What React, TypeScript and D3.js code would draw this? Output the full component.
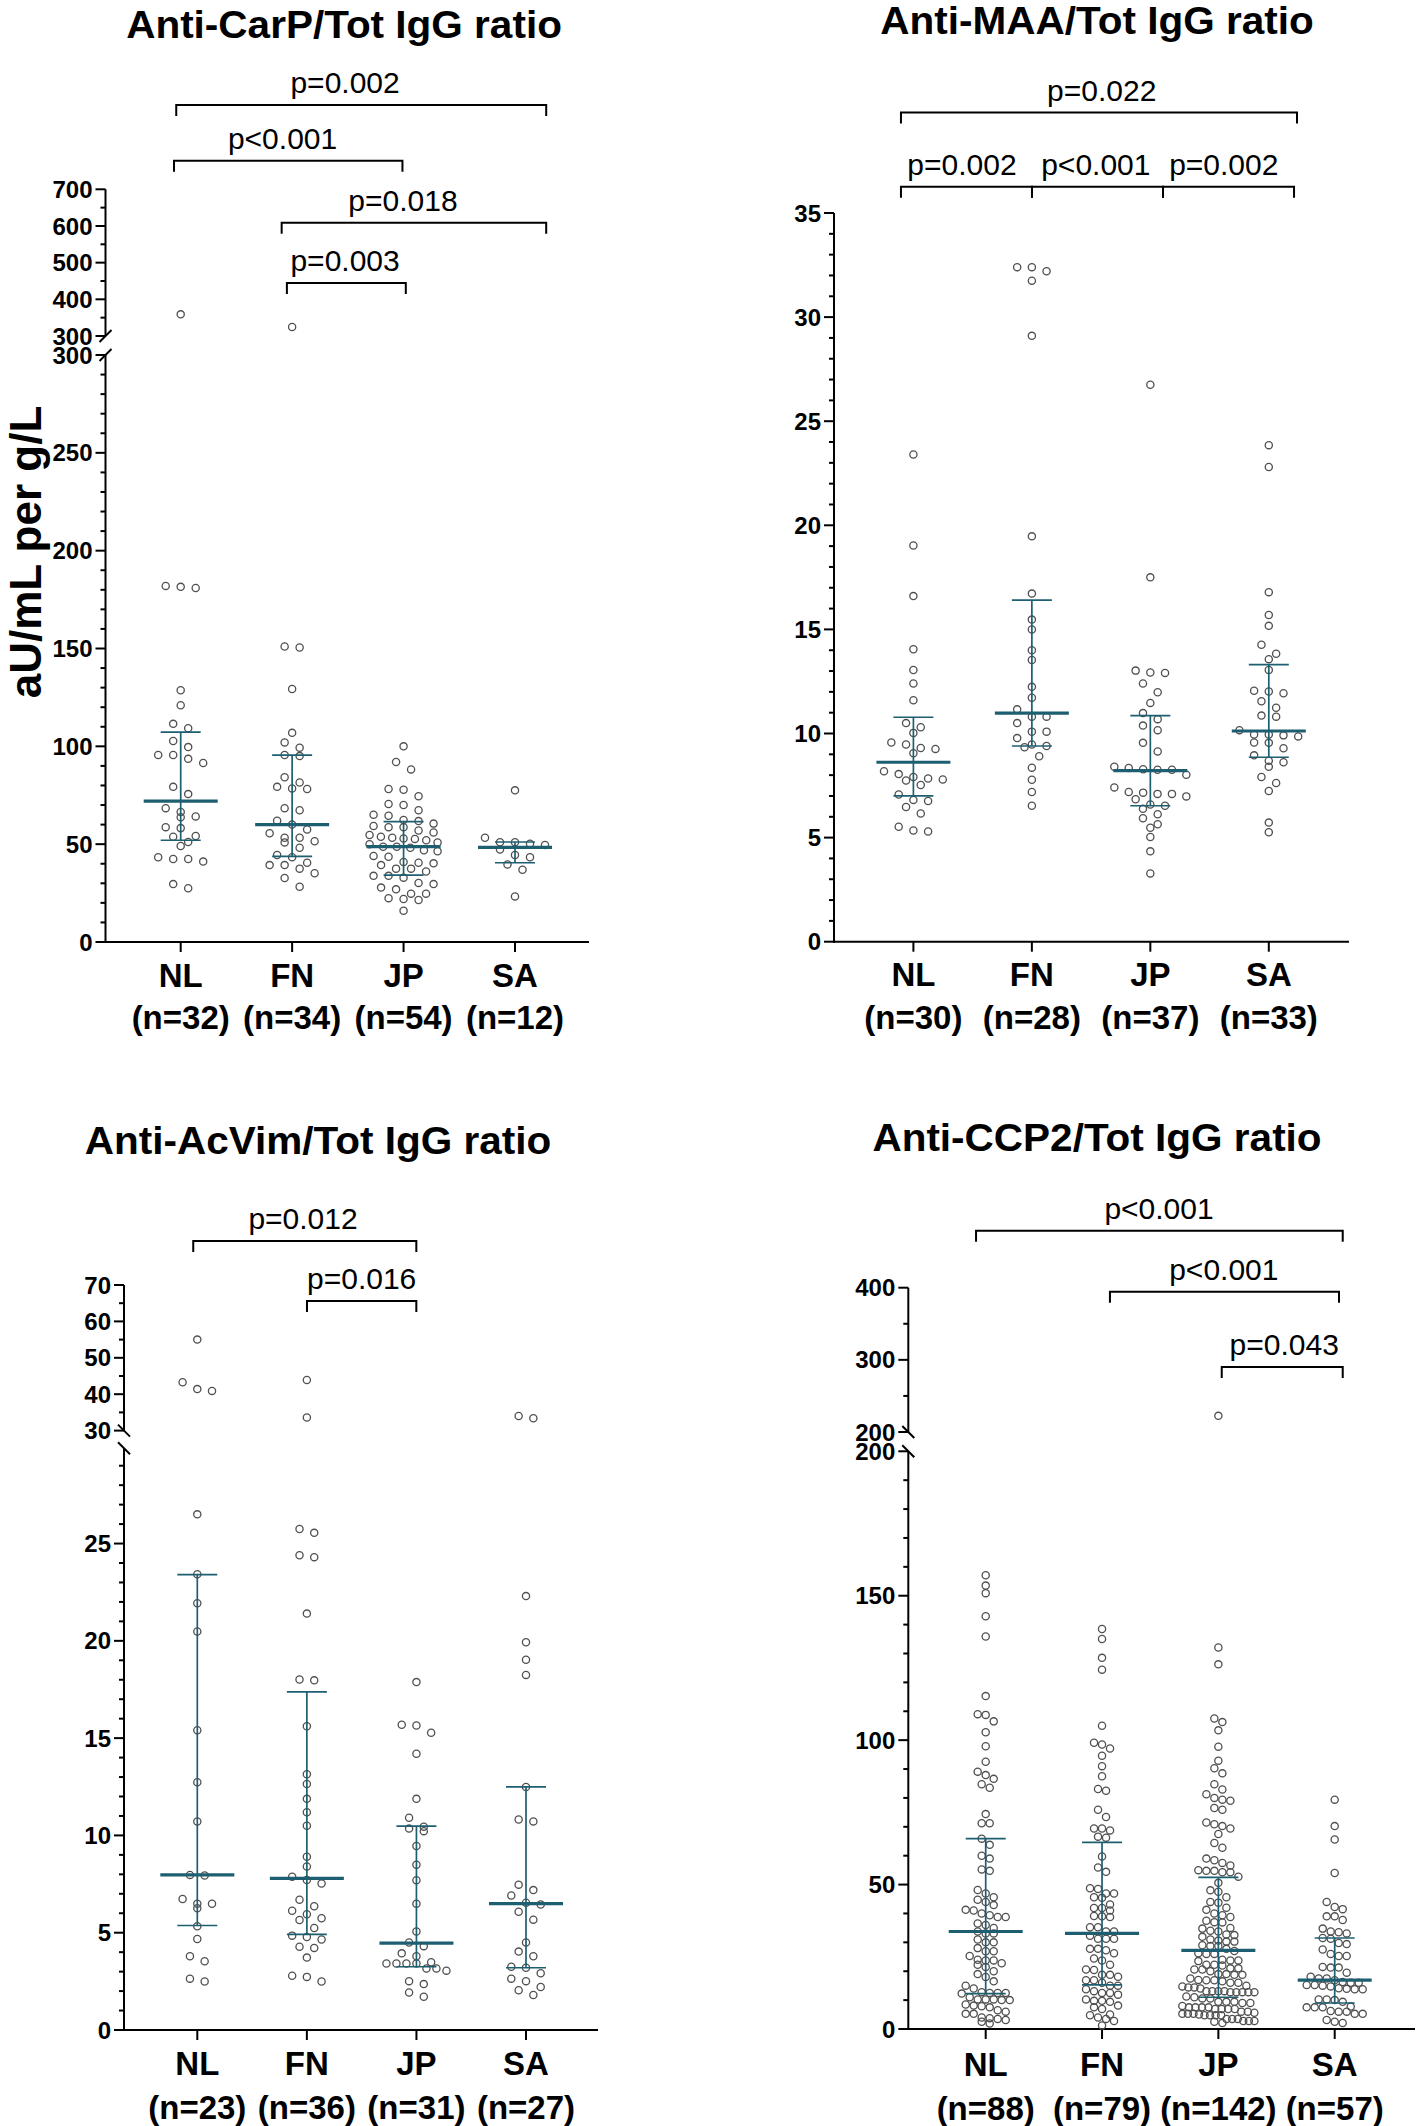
import React from 'react';
import * as d3 from 'd3';

const GROUPS = ['NL', 'FN', 'JP', 'SA'];

// ---------- Anti-CarP ----------
const carpN = [32, 34, 54, 12];
const carpNL = [359, 182, 181.5, 180.9, 128.7, 121, 111.5, 109.3, 102.7, 99.6, 95.6, 95.6, 93.6, 91.5, 79.3, 75.6, 68.4, 66.5, 64.2, 63.8, 58.2, 58.7, 53.8, 54.2, 51.1, 49.1, 42.4, 43.3, 42.4, 41.1, 29.6, 27.5];
const carpFN = [324.5, 151, 150.5, 129.3, 106.9, 102, 99.3, 95.6, 95, 84.2, 81.5, 79.3, 78.5, 78.2, 68.4, 67.3, 62, 60, 57.5, 55.6, 53.3, 53.3, 51.5, 50.9, 48.2, 44.5, 43.3, 40.5, 39.3, 39.3, 37.5, 35.1, 32.7, 28.2];
const carpJP = [100, 92, 88.2, 78.2, 77.8, 74.5, 70.5, 70, 67.3, 64.5, 62.4, 61.8, 60.5, 59.3, 58.7, 58.7, 57, 56, 54.7, 53.8, 53.3, 52.9, 52.7, 52, 50.9, 50, 48.7, 48.7, 48.2, 46.9, 46.4, 44, 43.6, 40.9, 40.5, 40.2, 39.3, 37.5, 37.5, 36, 33.8, 33.8, 32.9, 30.2, 29.6, 27.8, 26.9, 24.7, 24.7, 22.4, 22, 21.5, 16, 65];
const carpSA = [77.5, 53.3, 51, 51, 50.2, 49.6, 47.3, 44.5, 43.3, 39.6, 36.9, 23.3];
const carpMed = [72, 60, 48.7, 48.4];
const carpQ1 = [52, 43.8, 34.2, 40.5];
const carpQ3 = [107.3, 95.5, 61.5, 51.1];

// ---------- Anti-MAA ----------
const maaN = [30, 28, 37, 33];
const maaNL = [23.4, 19.03, 16.6, 14.05, 13.05, 12.4, 11.6, 10.5, 10.3, 10.03, 9.3, 9.47, 9.26, 9.57, 9.05, 8.19, 8.05, 7.84, 7.91, 7.74, 7.79, 7.53, 7.07, 6.76, 6.81, 6.47, 6.16, 5.29, 5.52, 5.34];
const maaFN = [32.4, 32.4, 32.2, 31.75, 29.1, 19.47, 16.72, 15.47, 15.0, 14.0, 13.53, 12.24, 11.72, 11.16, 10.81, 10.81, 10.5, 10.09, 10.09, 9.78, 9.4, 9.47, 9.34, 8.91, 8.36, 7.78, 7.19, 6.53];
const maaJP = [26.75, 17.5, 12.93, 12.91, 13.02, 12.4, 11.98, 11.47, 10.98, 10.69, 10.38, 10.16, 9.55, 9.14, 8.34, 8.26, 8.4, 8.26, 8.28, 8.02, 7.41, 7.1, 7.19, 7.16, 7.1, 6.98, 6.84, 6.53, 6.59, 6.38, 6.12, 5.93, 5.64, 5.47, 5.03, 4.34, 3.28];
const maaSA = [23.85, 22.8, 16.79, 15.69, 15.17, 14.26, 13.83, 13.57, 13.05, 11.93, 12.02, 12.05, 11.24, 11.55, 10.81, 10.86, 10.16, 9.86, 9.95, 9.91, 9.95, 9.57, 9.55, 9.29, 8.95, 8.62, 8.69, 8.4, 7.91, 7.62, 7.24, 5.72, 5.26];
const maaMed = [8.62, 10.98, 8.22, 10.12];
const maaQ1 = [7.0, 9.4, 6.53, 8.86];
const maaQ3 = [10.78, 16.41, 10.86, 13.31];

// ---------- Anti-AcVim ----------
const acvN = [23, 36, 31, 27];
const acvNL = [55, 43.3, 40.9, 41.4, 26.5, 23.42, 21.93, 20.48, 15.41, 12.73, 10.72, 7.97, 7.94, 6.49, 6.49, 6.73, 6.26, 5.33, 4.68, 3.53, 3.79, 2.49, 2.64];
const acvFN = [43.9, 33.6, 25.75, 25.55, 24.4, 24.3, 21.4, 18.01, 17.97, 15.61, 13.14, 12.64, 11.88, 11.19, 10.5, 8.9, 8.4, 7.71, 7.88, 7.53, 6.69, 6.36, 6.13, 5.95, 5.65, 5.74, 5.24, 4.85, 4.78, 4.65, 4.22, 4.28, 3.72, 2.79, 2.73, 2.49];
const acvJP = [17.88, 15.65, 15.69, 15.28, 14.2, 11.88, 10.91, 10.22, 10.45, 10.35, 9.46, 8.49, 7.7, 6.49, 5.06, 4.31, 4.5, 3.94, 3.79, 3.42, 3.48, 3.42, 3.42, 3.42, 3.16, 3.16, 3.05, 2.36, 2.51, 1.71, 1.93];
const acvSA = [34, 33.4, 22.3, 19.93, 19.03, 18.25, 12.49, 10.72, 10.82, 7.47, 7.19, 6.91, 6.54, 6.45, 6.08, 5.67, 4.5, 4.03, 3.79, 3.2, 3.25, 2.92, 2.64, 2.51, 2.21, 2.04, 1.8];
const acvMed = [7.97, 7.79, 4.46, 6.49];
const acvQ1 = [5.37, 4.91, 3.25, 3.2];
const acvQ3 = [23.4, 17.38, 10.48, 12.49];

// ---------- Anti-CCP2 ----------
const ccpN = [88, 79, 142, 57];
const ccpNL = [157.1, 153.5, 150.9, 142.9, 135.9, 115.25, 109, 108.75, 106.5, 102.75, 97.9, 92.5, 89.1, 87.9, 86.6, 84.75, 83.5, 74.4, 71.25, 71.25, 65.9, 63.75, 59, 60, 54.75, 55.25, 48.1, 46.9, 44.75, 45.6, 42.9, 41.25, 41, 38.75, 38.75, 39.4, 36.5, 36, 33.75, 33.1, 33.1, 30, 30, 26.9, 26.9, 25.25, 23.75, 22.75, 23.75, 22.25, 21.5, 19, 16.5, 15, 12.5, 12.5, 12.25, 12.5, 12.75, 10, 10.25, 10.25, 10.25, 10, 7.5, 8.1, 7.9, 5.25, 5.25, 6.5, 3.1, 3.75, 2.5, 3.5, 1.9, 44, 40, 35, 31, 28, 24, 20, 18, 14, 11, 8.5, 6, 4];
const ccpFN = [138.5, 135, 128.5, 124.4, 105, 99.1, 98.5, 97.1, 94.6, 91, 87.5, 83.1, 82.5, 75.9, 73.4, 69.4, 69.4, 68.75, 66.6, 66.25, 59.75, 55.9, 54.4, 48.5, 48.75, 45.4, 46.9, 46.9, 45.6, 43.1, 41.9, 41, 41.9, 39, 38.75, 39.1, 35.25, 35.25, 33.75, 32.25, 33.75, 31.25, 31.25, 31.25, 27.75, 27.75, 27.25, 26.25, 23.75, 24.4, 22.25, 20.6, 20.4, 18.1, 18.75, 18.75, 16.9, 16.9, 16, 15, 15, 13.75, 13.1, 12.5, 11.9, 12.5, 9.75, 10.25, 9.75, 9.4, 8.1, 6.9, 7.5, 4.75, 5, 4, 3.5, 2.75, 1.25];
const ccpJP = [222.4, 132.1, 126.25, 107.5, 106.25, 103.4, 97.75, 92.9, 90.25, 88.5, 84.75, 82.9, 81.25, 80, 79.4, 79, 76.5, 75.9, 71.5, 70.9, 70.25, 69.4, 67.5, 64.4, 62.75, 59, 58.4, 57.5, 56.6, 55, 54.25, 54.75, 54.75, 54.25, 52.75, 50.6, 47.5, 45.6, 43.75, 41.25, 38.75, 39.4, 37.5, 36.9, 35, 34.75, 33.75, 32.75, 32.5, 30.6, 31.9, 30.25, 30.25, 28.75, 28.75, 27.75, 26, 26, 26.25, 23.75, 23.5, 23.75, 22.25, 22.25, 21, 20.6, 21, 20.6, 20, 19, 18.75, 18.75, 17.5, 16.5, 16.9, 16, 16, 16.9, 15, 14.75, 14.4, 14.4, 13.1, 13.1, 13.1, 12.75, 13.1, 12.75, 12.75, 12.75, 12.75, 11.25, 10.6, 10.6, 9.4, 9, 9.4, 9, 9.4, 7.5, 6.9, 7.5, 6.9, 7.5, 6.9, 7.5, 6.9, 5.25, 4.75, 5.6, 4.75, 5.25, 4.75, 5.25, 5, 6, 6, 4.75, 3.5, 3.5, 2.75, 2.75, 2.5, 3.5, 2.75, 2.1, 48, 44, 42, 40, 37, 34, 31, 29, 27, 24, 22, 19, 17, 14, 11, 8];
const ccpSA = [79.4, 70.25, 65.6, 54, 44, 42.25, 41.5, 39, 37.75, 39, 34.75, 33.75, 33.5, 33.1, 31.25, 31.5, 29.4, 29.75, 27.5, 26, 25.25, 21.25, 21.25, 21.5, 25.25, 18.1, 17.5, 17.5, 16.25, 16, 16, 16.9, 15.25, 15, 15.25, 14.75, 14.1, 13.75, 13.9, 13.75, 10.25, 10.25, 10, 9.4, 7.5, 7.5, 7.5, 7.75, 6, 5.25, 6, 6.25, 5.25, 2.5, 3.1, 2.1, 19.5];
const ccpMed = [33.75, 33.1, 27.25, 16.9];
const ccpQ1 = [12.25, 15.25, 11, 9];
const ccpQ3 = [65.9, 64.6, 52.5, 31.5];

// ---------- styling ----------
const FONT = '"Liberation Sans", Arial, Helvetica, sans-serif';
const TEAL = '#1d5f70';
const DOT = '#505050';

type Segment = { domain: [number, number]; range: [number, number]; major: number; minor: number };
type Bracket = { from: number; to: number; y: number; label: string; labelAt: number };
type Cfg = {
  title: string; titleX: number; titleY: number;
  axisX: number; axisEnd: number; baseY: number; groupRange: [number, number];
  labelY: number; nY: number;
  n: number[]; values: number[][]; med: number[]; q1: number[]; q3: number[];
  segments: Segment[]; slash: 1 | -1; brackets: Bracket[];
  swarm: { H: number; S: number; W: number };
  yTitle?: { text: string; x: number; y: number };
};

const panels: Cfg[] = [
  {
    title: 'Anti-CarP/Tot IgG ratio', titleX: 344, titleY: 38,
    axisX: 105.5, axisEnd: 589, baseY: 942, groupRange: [180.7, 515],
    labelY: 987, nY: 1029,
    n: carpN, values: [carpNL, carpFN, carpJP, carpSA], med: carpMed, q1: carpQ1, q3: carpQ3,
    segments: [
      { domain: [0, 300], range: [942, 355], major: 50, minor: 10 },
      { domain: [300, 700], range: [336, 189.3], major: 100, minor: 50 },
    ],
    slash: 1,
    brackets: [
      { from: -0.04, to: 3.28, y: 105, label: 'p=0.002', labelAt: 1.475 },
      { from: -0.06, to: 1.99, y: 160.7, label: 'p<0.001', labelAt: 0.914 },
      { from: 0.906, to: 3.28, y: 222.7, label: 'p=0.018', labelAt: 1.995 },
      { from: 0.953, to: 2.02, y: 283, label: 'p=0.003', labelAt: 1.475 },
    ],
    swarm: { H: 9, S: 15, W: 34 },
    yTitle: { text: 'aU/mL per g/L', x: 41, y: 552 },
  },
  {
    title: 'Anti-MAA/Tot IgG ratio', titleX: 1097, titleY: 34,
    axisX: 834, axisEnd: 1349, baseY: 941.7, groupRange: [913.4, 1268.8],
    labelY: 986, nY: 1028.5,
    n: maaN, values: [maaNL, maaFN, maaJP, maaSA], med: maaMed, q1: maaQ1, q3: maaQ3,
    segments: [{ domain: [0, 35], range: [941.7, 213], major: 5, minor: 1 }],
    slash: 1,
    brackets: [
      { from: -0.105, to: 3.238, y: 112.6, label: 'p=0.022', labelAt: 1.59 },
      { from: -0.105, to: 1.001, y: 186.7, label: 'p=0.002', labelAt: 0.41 },
      { from: 1.001, to: 2.107, y: 186.7, label: 'p<0.001', labelAt: 1.54 },
      { from: 2.107, to: 3.213, y: 186.7, label: 'p=0.002', labelAt: 2.62 },
    ],
    swarm: { H: 9, S: 14.7, W: 36 },
  },
  {
    title: 'Anti-AcVim/Tot IgG ratio', titleX: 318, titleY: 1154,
    axisX: 124, axisEnd: 598, baseY: 2030, groupRange: [197.3, 526],
    labelY: 2075, nY: 2118.5,
    n: acvN, values: [acvNL, acvFN, acvJP, acvSA], med: acvMed, q1: acvQ1, q3: acvQ3,
    segments: [
      { domain: [0, 29.9], range: [2030, 1448.2], major: 5, minor: 1 },
      { domain: [30, 70], range: [1430.6, 1285], major: 10, minor: 5 },
    ],
    slash: -1,
    brackets: [
      { from: -0.037, to: 1.999, y: 1241, label: 'p=0.012', labelAt: 0.965 },
      { from: 1.001, to: 1.999, y: 1301, label: 'p=0.016', labelAt: 1.5 },
    ],
    swarm: { H: 9, S: 14.7, W: 30 },
  },
  {
    title: 'Anti-CCP2/Tot IgG ratio', titleX: 1097, titleY: 1151,
    axisX: 908.3, axisEnd: 1415, baseY: 2029, groupRange: [985.7, 1334.7],
    labelY: 2076, nY: 2119.5,
    n: ccpN, values: [ccpNL, ccpFN, ccpJP, ccpSA], med: ccpMed, q1: ccpQ1, q3: ccpQ3,
    segments: [
      { domain: [0, 200], range: [2029, 1451.3], major: 50, minor: 10 },
      { domain: [200, 400], range: [1432, 1287.7], major: 100, minor: 50 },
    ],
    slash: -1,
    brackets: [
      { from: -0.083, to: 3.069, y: 1230.7, label: 'p<0.001', labelAt: 1.49 },
      { from: 1.068, to: 3.037, y: 1291.7, label: 'p<0.001', labelAt: 2.047 },
      { from: 2.029, to: 3.069, y: 1367, label: 'p=0.043', labelAt: 2.566 },
    ],
    swarm: { H: 7.5, S: 8, W: 36 },
  },
];

function makeY(segments: Segment[]) {
  const scales = segments.map((s) => d3.scaleLinear().domain(s.domain).range(s.range));
  return (v: number) => {
    for (let i = 0; i < segments.length; i++) {
      if (v <= segments[i].domain[1] || i === segments.length - 1) return scales[i](v);
    }
    return scales[0](v);
  };
}

function swarm(values: number[], y: (v: number) => number, cx: number, H: number, S: number, W: number) {
  const pts = values.map((v) => ({ v, py: y(v) })).sort((a, b) => a.py - b.py);
  const out: { x: number; y: number }[] = [];
  let i = 0;
  while (i < pts.length) {
    const start = pts[i].py;
    let j = i;
    while (j < pts.length && pts[j].py - start < H) j++;
    const row = pts.slice(i, j);
    const k = row.length;
    const s = k > 1 ? Math.min(S, (2 * W) / (k - 1)) : 0;
    row.forEach((p, idx) => out.push({ x: cx + (idx - (k - 1) / 2) * s, y: p.py }));
    i = j;
  }
  return out;
}

function Panel({ cfg }: { cfg: Cfg }) {
  const y = makeY(cfg.segments);
  const xg = d3.scalePoint<string>().domain(GROUPS).range(cfg.groupRange);
  const xi = d3.scaleLinear().domain([0, GROUPS.length - 1]).range(cfg.groupRange);
  const ax = cfg.axisX;

  const ticks: JSX.Element[] = [];
  cfg.segments.forEach((seg, si) => {
    const sc = d3.scaleLinear().domain(seg.domain).range(seg.range);
    const minors = d3.range(Math.ceil(seg.domain[0] / seg.minor) * seg.minor, seg.domain[1] + 1e-9, seg.minor);
    minors.forEach((v, k) => {
      const isMajor = Math.abs(v / seg.major - Math.round(v / seg.major)) < 1e-6;
      const yy = sc(v);
      ticks.push(
        <line key={`t${si}-${k}`} x1={ax - (isMajor ? 10 : 5)} x2={ax} y1={yy} y2={yy} stroke="#000" strokeWidth={2} />
      );
      if (isMajor) {
        ticks.push(
          <text key={`l${si}-${k}`} x={ax - 13} y={yy} dy="0.36em" textAnchor="end" fontSize={24} fontWeight="bold" fontFamily={FONT} fill="#000">
            {d3.format('d')(v)}
          </text>
        );
      }
    });
    ticks.push(<line key={`ax${si}`} x1={ax} x2={ax} y1={seg.range[0] + (si === 0 ? 1 : 0)} y2={seg.range[1]} stroke="#000" strokeWidth={2} />);
  });

  const slashes: JSX.Element[] = [];
  if (cfg.segments.length > 1) {
    const ends = [cfg.segments[0].range[1], cfg.segments[1].range[0]];
    ends.forEach((yy, k) => {
      const d = 6;
      slashes.push(
        <line key={`s${k}`} x1={ax - d} x2={ax + d} y1={yy + d * cfg.slash} y2={yy - d * cfg.slash} stroke="#000" strokeWidth={2} />
      );
    });
  }

  return (
    <g>
      <text transform={`translate(${cfg.titleX},${cfg.titleY}) scale(1.066,1)`} textAnchor="middle" fontSize={38} fontWeight="bold" fontFamily={FONT} fill="#000">
        {cfg.title}
      </text>
      {cfg.yTitle && (
        <text transform={`translate(${cfg.yTitle.x},${cfg.yTitle.y}) rotate(-90)`} textAnchor="middle" fontSize={44} fontWeight="bold" fontFamily={FONT} fill="#000">
          {cfg.yTitle.text}
        </text>
      )}
      {ticks}
      {slashes}
      <line x1={ax - 1} x2={cfg.axisEnd} y1={cfg.baseY} y2={cfg.baseY} stroke="#000" strokeWidth={2} />
      {GROUPS.map((g, i) => (
        <g key={g}>
          <line x1={xg(g)} x2={xg(g)} y1={cfg.baseY} y2={cfg.baseY + 10} stroke="#000" strokeWidth={2} />
          <text x={xg(g)} y={cfg.labelY} textAnchor="middle" fontSize={33} fontWeight="bold" fontFamily={FONT} fill="#000">{g}</text>
          <text x={xg(g)} y={cfg.nY} textAnchor="middle" fontSize={33} fontWeight="bold" fontFamily={FONT} fill="#000">{`(n=${cfg.n[i]})`}</text>
        </g>
      ))}
      {GROUPS.map((g, i) =>
        swarm(cfg.values[i], y, xg(g) as number, cfg.swarm.H, cfg.swarm.S, cfg.swarm.W).map((p, k) => (
          <circle key={`${g}-${k}`} cx={p.x} cy={p.y} r={3.6} fill="none" stroke={DOT} strokeWidth={1.3} />
        ))
      )}
      {GROUPS.map((g, i) => {
        const cx = xg(g) as number;
        return (
          <g key={`bar-${g}`}>
            <line x1={cx} x2={cx} y1={y(cfg.q1[i])} y2={y(cfg.q3[i])} stroke={TEAL} strokeWidth={1.7} />
            <line x1={cx - 20} x2={cx + 20} y1={y(cfg.q1[i])} y2={y(cfg.q1[i])} stroke={TEAL} strokeWidth={1.7} />
            <line x1={cx - 20} x2={cx + 20} y1={y(cfg.q3[i])} y2={y(cfg.q3[i])} stroke={TEAL} strokeWidth={1.7} />
            <line x1={cx - 37} x2={cx + 37} y1={y(cfg.med[i])} y2={y(cfg.med[i])} stroke={TEAL} strokeWidth={3.2} />
          </g>
        );
      })}
      {cfg.brackets.map((b, k) => {
        const x1 = xi(b.from), x2 = xi(b.to);
        return (
          <g key={`b${k}`}>
            <path d={`M${x1},${b.y + 11}V${b.y}H${x2}V${b.y + 11}`} fill="none" stroke="#000" strokeWidth={2} />
            <text x={xi(b.labelAt)} y={b.y - 12} textAnchor="middle" fontSize={30} fontFamily={FONT} fill="#000">{b.label}</text>
          </g>
        );
      })}
    </g>
  );
}

export default function App() {
  return (
    <svg width={1416} height={2126} viewBox="0 0 1416 2126" style={{ position: 'absolute', left: 0, top: 0, display: 'block', background: '#fff' }}>
      <rect width={1416} height={2126} fill="#fff" />
      {panels.map((p, i) => (
        <Panel key={i} cfg={p} />
      ))}
    </svg>
  );
}
